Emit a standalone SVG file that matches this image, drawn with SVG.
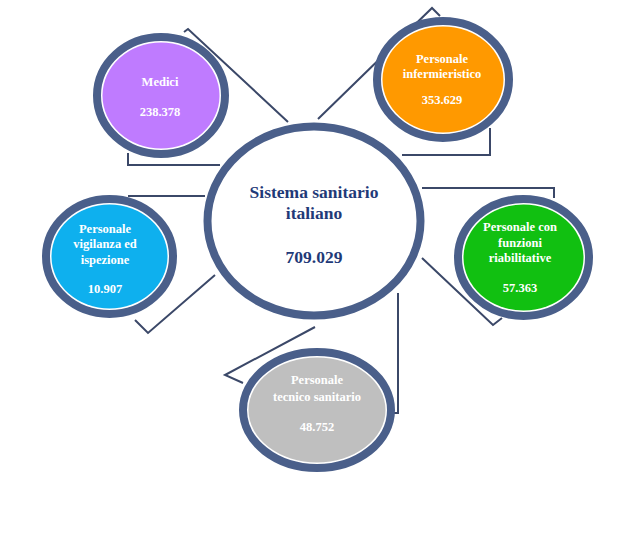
<svg xmlns="http://www.w3.org/2000/svg" width="625" height="545" viewBox="0 0 625 545">
<style>
.c{fill:none;stroke:#3B4868;stroke-width:2;stroke-linejoin:miter}
.ring{fill:#ffffff;stroke:#4A5F8A;stroke-width:8}
.t{font-family:"Liberation Serif","Times New Roman",serif;font-weight:bold;fill:#ffffff;text-anchor:middle;font-size:12.5px}
.ct{font-family:"Liberation Serif","Times New Roman",serif;font-weight:bold;fill:#1F3A78;text-anchor:middle;font-size:17.5px}
</style>
<rect width="625" height="545" fill="#ffffff"/>
<g id="connectors">
<polyline class="c" points="184,32 188,29 288,122"/>
<polyline class="c" points="128,153 128,165 220,165"/>
<polyline class="c" points="318,119 432,8 440,16"/>
<polyline class="c" points="490,128 490,155 402,155"/>
<polyline class="c" points="128,196 205,196"/>
<polyline class="c" points="135,320 148,333 215,275"/>
<polyline class="c" points="422,188 554,188 554,198"/>
<polyline class="c" points="422,258 493,325 502,318"/>
<polyline class="c" points="398,293 398,413 392,413"/>
<polyline class="c" points="315,327 225,375 243,383"/>
</g>
<g id="center">
<ellipse class="ring" cx="314" cy="221" rx="106.5" ry="94.5" stroke-width="9"/>
<text class="ct" x="314" y="198">Sistema sanitario</text>
<text class="ct" x="314" y="219">italiano</text>
<text class="ct" x="314" y="263">709.029</text>
</g>
<g id="medici">
<ellipse class="ring" cx="161" cy="95.5" rx="64" ry="58.5"/>
<ellipse cx="161" cy="95.5" rx="58.5" ry="53" fill="#BF7BFF"/>
<text class="t" x="160" y="86">Medici</text>
<text class="t" x="160" y="116">238.378</text>
</g>
<g id="infermieristico">
<ellipse class="ring" cx="443" cy="79.5" rx="66" ry="58.5"/>
<ellipse cx="443" cy="79.5" rx="60.5" ry="53" fill="#FF9900"/>
<text class="t" x="442" y="63">Personale</text>
<text class="t" x="442" y="78">infermieristico</text>
<text class="t" x="442" y="104">353.629</text>
</g>
<g id="vigilanza">
<ellipse class="ring" cx="109.5" cy="256.5" rx="63.5" ry="57.5"/>
<ellipse cx="109.5" cy="256.5" rx="58" ry="52" fill="#0EB0EE"/>
<text class="t" x="105" y="233">Personale</text>
<text class="t" x="105" y="248">vigilanza  ed</text>
<text class="t" x="105" y="264">ispezione</text>
<text class="t" x="105" y="293">10.907</text>
</g>
<g id="riabilitative">
<ellipse class="ring" cx="523.5" cy="257.5" rx="65.5" ry="58.5"/>
<ellipse cx="523.5" cy="257.5" rx="60" ry="53" fill="#11C011"/>
<text class="t" x="520" y="231">Personale con</text>
<text class="t" x="520" y="247">funzioni</text>
<text class="t" x="520" y="262">riabilitative</text>
<text class="t" x="520" y="292">57.363</text>
</g>
<g id="tecnico">
<ellipse class="ring" cx="317" cy="410" rx="74" ry="58"/>
<ellipse cx="317" cy="410" rx="68.5" ry="52.5" fill="#BFBFBF"/>
<text class="t" x="317" y="384">Personale</text>
<text class="t" x="317" y="401">tecnico sanitario</text>
<text class="t" x="317" y="431">48.752</text>
</g>
</svg>
